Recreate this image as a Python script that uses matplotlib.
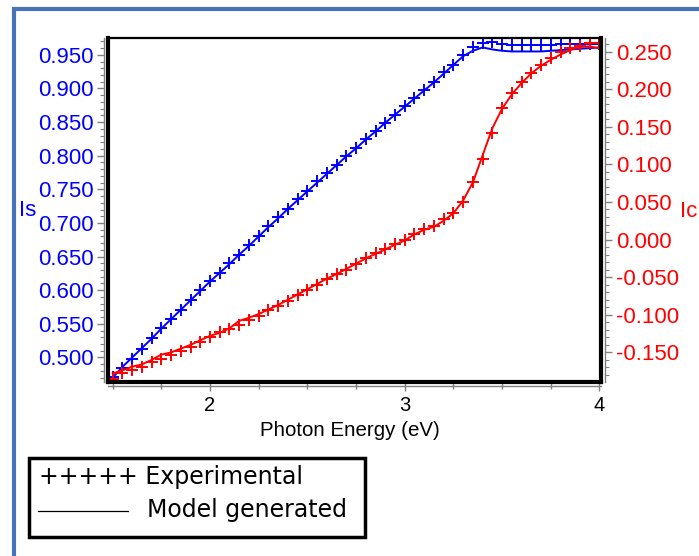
import matplotlib
matplotlib.use("Agg")
import matplotlib.pyplot as plt
from matplotlib.ticker import MultipleLocator, FormatStrFormatter
from matplotlib.patches import Rectangle
from matplotlib.lines import Line2D

energy = [1.50, 1.55, 1.60, 1.65, 1.70, 1.75, 1.80, 1.85, 1.90, 1.95,
          2.00, 2.05, 2.10, 2.15, 2.20, 2.25, 2.30, 2.35, 2.40, 2.45,
          2.50, 2.55, 2.60, 2.65, 2.70, 2.75, 2.80, 2.85, 2.90, 2.95,
          3.00, 3.05, 3.10, 3.15, 3.20, 3.25, 3.30, 3.35, 3.40, 3.45,
          3.50, 3.55, 3.60, 3.65, 3.70, 3.75, 3.80, 3.85, 3.90, 3.95, 4.00]

is_exp = [0.471, 0.485, 0.498, 0.512, 0.529, 0.544, 0.557, 0.571, 0.585, 0.600,
          0.614, 0.626, 0.640, 0.653, 0.667, 0.681, 0.695, 0.709, 0.721, 0.735,
          0.747, 0.762, 0.774, 0.786, 0.799, 0.812, 0.825, 0.836, 0.849, 0.861,
          0.874, 0.886, 0.897, 0.910, 0.924, 0.935, 0.949, 0.961, 0.968, 0.969,
          0.966, 0.965, 0.965, 0.965, 0.965, 0.965, 0.966, 0.966, 0.966, 0.966, 0.966]

is_model = [0.470, 0.486, 0.500, 0.514, 0.528, 0.543, 0.557, 0.571, 0.585, 0.599,
            0.613, 0.626, 0.639, 0.653, 0.666, 0.680, 0.694, 0.707, 0.721, 0.734,
            0.747, 0.760, 0.773, 0.786, 0.799, 0.811, 0.824, 0.836, 0.849, 0.861,
            0.873, 0.885, 0.897, 0.909, 0.922, 0.935, 0.948, 0.956, 0.961, 0.958,
            0.956, 0.955, 0.955, 0.955, 0.955, 0.956, 0.957, 0.958, 0.959, 0.960, 0.961]

ic_exp = [-0.185, -0.178, -0.173, -0.169, -0.163, -0.159, -0.154, -0.148, -0.143, -0.136,
          -0.129, -0.123, -0.119, -0.114, -0.107, -0.101, -0.094, -0.089, -0.082, -0.074,
          -0.067, -0.060, -0.053, -0.046, -0.041, -0.032, -0.024, -0.018, -0.012, -0.006,
          0.000, 0.007, 0.014, 0.018, 0.027, 0.035, 0.050, 0.076, 0.107, 0.142,
          0.175, 0.195, 0.210, 0.222, 0.232, 0.241, 0.249, 0.255, 0.258, 0.261, 0.262]

ic_model = [-0.178, -0.174, -0.169, -0.166, -0.160, -0.153, -0.150, -0.145, -0.140, -0.134,
            -0.128, -0.124, -0.118, -0.108, -0.104, -0.099, -0.093, -0.087, -0.080, -0.073,
            -0.066, -0.059, -0.052, -0.046, -0.039, -0.032, -0.025, -0.019, -0.013, -0.007,
            -0.001, 0.007, 0.013, 0.017, 0.025, 0.035, 0.052, 0.076, 0.112, 0.148,
            0.174, 0.193, 0.208, 0.221, 0.231, 0.239, 0.246, 0.252, 0.256, 0.257, 0.254]

x_ticks = [2, 3, 4]
is_ticks = [0.500, 0.550, 0.600, 0.650, 0.700, 0.750, 0.800, 0.850, 0.900, 0.950]
ic_ticks = [-0.150, -0.100, -0.050, 0.000, 0.050, 0.100, 0.150, 0.200, 0.250]

BLUE = "#0000ff"
RED = "#ff0000"
GREY = "#808080"
FRAME = "#4a72b8"
W, H = 699, 556

plt.rcParams['font.family'] = ['Liberation Sans', 'DejaVu Sans']

fig = plt.figure(figsize=(W / 100, H / 100), dpi=100)
fig.patch.set_facecolor("white")

# outer blue frame (extends past right/bottom edges)
fig.patches.append(Rectangle((13.5 / W, -0.05), 1.2, 1 - 9.5 / H + 0.05,
                             transform=fig.transFigure, fill=False,
                             edgecolor=FRAME, linewidth=3.0))

L, R, T, B = 108, 601, 38, 381.7
ax = fig.add_axes([L / W, 1 - B / H, (R - L) / W, (B - T) / H])
ax2 = ax.twinx()

ax.plot(energy, is_model, color=BLUE, lw=1.4, zorder=3)
ax.plot(energy, is_exp, ls='none', marker='+', ms=8.5, mew=1.4, color=BLUE, zorder=4)
ax2.plot(energy, ic_model, color=RED, lw=1.4, zorder=3)
ax2.plot(energy, ic_exp, ls='none', marker='+', ms=8.5, mew=1.4, color=RED, zorder=4)

ax.set_xlim(1.476, 4.008)
ax.set_ylim(0.464, 0.975)
ax2.set_ylim(-0.189, 0.268)

ax.set_xticks(x_ticks)
ax.xaxis.set_minor_locator(MultipleLocator(0.25))
ax.set_yticks(is_ticks)
ax.yaxis.set_minor_locator(MultipleLocator(0.01))
ax.yaxis.set_major_formatter(FormatStrFormatter('%.3f'))
ax2.set_yticks(ic_ticks)
ax2.yaxis.set_minor_locator(MultipleLocator(0.01))
ax2.yaxis.set_major_formatter(FormatStrFormatter('%.3f'))

for a in (ax, ax2):
    for s in a.spines.values():
        s.set_visible(False)

# grey offset axis lines
for a, side in ((ax, 'left'), (ax, 'bottom'), (ax2, 'right')):
    sp = a.spines[side]
    sp.set_visible(True)
    sp.set_position(('outward', 3))
    sp.set_color(GREY)
    sp.set_linewidth(1.0)

ax.tick_params(axis='x', which='major', direction='inout', length=7, width=1,
               color=GREY, labelsize=14.5, labelcolor='black', pad=4)
ax.tick_params(axis='x', which='minor', direction='inout', length=5, width=1, color=GREY)
ax.tick_params(axis='y', which='major', direction='out', length=5, width=1,
               color=GREY, labelsize=16, labelcolor=BLUE, pad=2)
ax.tick_params(axis='y', which='minor', direction='out', length=3, width=0.8, color=GREY)
ax2.tick_params(axis='y', which='major', direction='out', length=5, width=1,
                color=GREY, labelsize=16, labelcolor=RED, pad=3)
ax2.tick_params(axis='y', which='minor', direction='out', length=3, width=0.8, color=GREY)

# black plot frame
for (xs, ys, lw) in (([0, 0], [0, 1], 3.0), ([1, 1], [0, 1], 3.0),
                     ([0, 1], [0, 0], 3.0), ([0, 1], [1, 1], 1.6)):
    ax2.add_line(Line2D(xs, ys, transform=ax2.transAxes, color='black',
                        lw=lw, clip_on=False, zorder=5, solid_capstyle='projecting'))

fig.text(28 / W, 1 - 210 / H, "Is", color=BLUE, fontsize=16, ha='center', va='center')
fig.text(689 / W, 1 - 211 / H, "Ic", color=RED, fontsize=16, ha='center', va='center')
fig.text(350 / W, 1 - 430 / H, "Photon Energy (eV)", color='black', fontsize=14.8,
         ha='center', va='center')

# legend box
fig.patches.append(Rectangle((29 / W, 1 - 537 / H), (365 - 29) / W, (537 - 458) / H,
                             transform=fig.transFigure, fill=False,
                             edgecolor='black', linewidth=2.5))
fig.text(39 / W, 1 - 477 / H, "+++++ Experimental", family='DejaVu Sans',
         fontsize=17, ha='left', va='center', color='black')
fig.lines.append(Line2D([38 / W, 128 / W], [1 - 511 / H, 1 - 511 / H],
                        transform=fig.transFigure, color='black', lw=0.9))
fig.text(147 / W, 1 - 510 / H, "Model generated", family='DejaVu Sans',
         fontsize=17, ha='left', va='center', color='black')

fig.savefig("out.png", dpi=100, facecolor='white')
